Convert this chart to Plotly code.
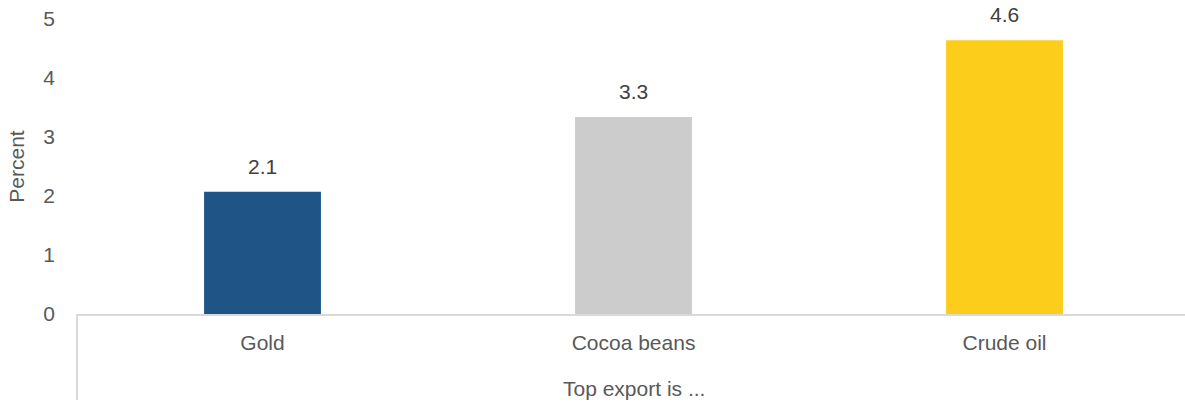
import plotly.graph_objects as go

# Top-export categories and their values (percent)
categories = ["Gold", "Cocoa beans", "Crude oil"]
values = [2.07, 3.34, 4.64]
bar_colors = ["#1F5487", "#CCCCCC", "#FDCD1C"]
y_ticks = [0, 1, 2, 3, 4, 5]

W, H = 1185, 402
m_l, m_r, m_t, m_b = 77, 0, 19, 88
plot_h = H - m_t - m_b
FONT = "Liberation Sans, Arial, sans-serif"
FS = 21

fig = go.Figure(
    go.Bar(
        x=categories,
        y=values,
        marker=dict(color=bar_colors, line=dict(width=0)),
        width=0.315,
        hoverinfo="x+y",
    )
)

# value labels above each bar
value_labels = [
    dict(
        text=f"{v:.1f}",
        xref="x",
        yref="y",
        x=c,
        y=v,
        yanchor="bottom",
        yshift=12,
        showarrow=False,
        font=dict(family=FONT, size=FS, color="#404040"),
    )
    for c, v in zip(categories, values)
]

fig.update_layout(
    width=W,
    height=H,
    margin=dict(l=m_l, r=m_r, t=m_t, b=m_b, pad=0),
    paper_bgcolor="white",
    plot_bgcolor="white",
    showlegend=False,
    font=dict(family=FONT, size=FS, color="#595959"),
    xaxis=dict(
        range=[-0.5, 2.5 - 5 / 371],
        showgrid=False,
        showline=True,
        linecolor="#D9D9D9",
        linewidth=2,
        ticks="",
        ticklabelstandoff=9,
        tickfont=dict(size=FS, color="#595959"),
        zeroline=False,
    ),
    yaxis=dict(
        range=[0, 5],
        tickvals=y_ticks,
        showgrid=False,
        showline=False,
        zeroline=False,
        ticks="",
        ticklabelstandoff=21,
        tickfont=dict(size=FS, color="#595959"),
        title=dict(text="Percent", font=dict(size=FS, color="#595959"), standoff=12),
    ),
    shapes=[
        # group separator line below the category axis
        dict(
            type="line",
            xref="paper",
            yref="paper",
            x0=0,
            x1=0,
            y0=0,
            y1=-(400 - 314) / plot_h,
            line=dict(color="#D9D9D9", width=2),
        )
    ],
    annotations=value_labels
    + [
        dict(
            text="Top export is ...",
            xref="x",
            yref="paper",
            x=1,
            y=-(388 - 314) / plot_h,
            yanchor="middle",
            showarrow=False,
            font=dict(family=FONT, size=FS, color="#595959"),
        )
    ],
)

fig.write_html("out.html")
